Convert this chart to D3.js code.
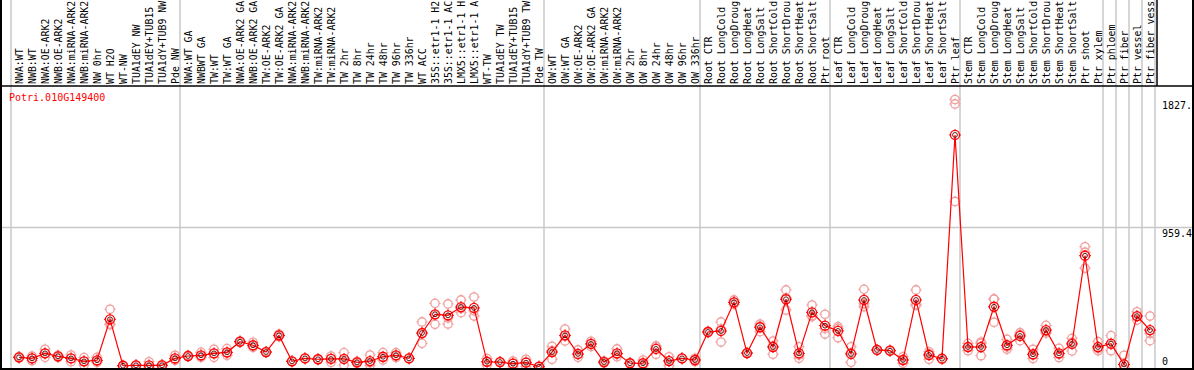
<!DOCTYPE html>
<html>
<head>
<meta charset="utf-8">
<script src="https://cdn.jsdelivr.net/npm/d3@7"></script>
<style>
  body { margin: 0; background: #fff; }
  svg { display: block; font-family: "DejaVu Sans Mono", monospace; font-size: 10px; }
</style>
</head>
<body>
<svg id="chart" width="1194" height="370"></svg>
<script>
// gene id
const geneName = "Potri.010G149400";

// sample names, as far as the header shows them
const samples = [
  "NWA:WT", "NWB:WT", "NWA:OE-ARK2", "NWB:OE-ARK2", "NWA:miRNA-ARK2", "NWB:miRNA-ARK2",
  "NW 0hr", "WT H2O", "WT-NW", "TUA1dEY NW", "TUA1dEY+TUB15", "TUA1dY+TUB9 NW", "Pde NW",
  "NWA:WT GA", "NWBWT GA", "TW:WT", "TW:WT GA", "NWA:OE-ARK2 GA", "NWB:OE-ARK2 GA",
  "TW:OE-ARK2", "TW:OE-ARK2 GA", "NWA:miRNA-ARK2 ", "NWB:miRNA-ARK2 ", "TW:miRNA-ARK2",
  "TW:miRNA-ARK2 ", "TW 2hr", "TW 8hr", "TW 24hr", "TW 48hr", "TW 96hr", "TW 336hr", "WT ACC",
  "35S::etr1-1 H2", "35S::etr1-1 AC", "LMX5::etr1-1 H", "LMX5::etr1-1 A", "WT-TW",
  "TUA1dEY TW", "TUA1dEY+TUB15 ", "TUA1dY+TUB9 TW", "Pde TW",
  "OW:WT", "OW:WT GA", "OW:OE-ARK2", "OW:OE-ARK2 GA", "OW:miRNA-ARK2", "OW:miRNA-ARK2 ",
  "OW 2hr", "OW 8hr", "OW 24hr", "OW 48hr", "OW 96hr", "OW 336hr",
  "Root CTR", "Root LongCold", "Root LongDroug", "Root LongHeat", "Root LongSalt",
  "Root ShortCold", "Root ShortDrou", "Root ShortHeat", "Root ShortSalt", "Ptr root",
  "Leaf CTR", "Leaf LongCold", "Leaf LongDroug", "Leaf LongHeat", "Leaf LongSalt",
  "Leaf ShortCold", "Leaf ShortDrou", "Leaf ShortHeat", "Leaf ShortSalt", "Ptr leaf",
  "Stem CTR", "Stem LongCold", "Stem LongDroug", "Stem LongHeat", "Stem LongSalt",
  "Stem ShortCold", "Stem ShortDrou", "Stem ShortHeat", "Stem ShortSalt", "Ptr shoot",
  "Ptr xylem", "Ptr phloem", "Ptr fiber", "Ptr vessel", "Ptr fiber vess"
];

// first sample of each group (grey separators)
const groupStarts = ["NWA:WT", "NWA:WT GA", "OW:WT", "Root CTR", "Leaf CTR", "Stem CTR",
  "Ptr phloem", "Ptr fiber", "Ptr vessel", "Ptr fiber vess"];

// mean expression
const means = [
  79, 72, 106, 86, 72, 52, 59, 337, 22, 25, 25, 25, 72,
  88, 93, 106, 113, 185, 161, 115, 228, 52, 72, 66, 68, 68, 45, 54, 83, 93, 72, 244,
  371, 364, 420, 414, 49, 47, 36, 43, 16,
  115, 228, 102, 170, 47, 106, 39, 39, 136, 54, 72, 61,
  251, 258, 452, 108, 283, 149, 473, 106, 384, 294,
  258, 102, 468, 129, 124, 61, 468, 95, 70, 1587,
  149, 149, 422, 161, 224, 100, 264, 106, 170, 768, 149,
  172, 31, 359, 264
];

// replicate values
const reps = [
  [75, 79, 84], [56, 72, 88], [134, 106, 79], [79, 86, 93], [49, 72, 95], [77, 52, 27],
  [79, 53, 45], [405, 305, 301], [20, 22, 24], [22, 25, 28], [49, 14, 12], [20, 25, 30], [93, 64, 59],
  [84, 88, 92], [113, 87, 79], [134, 105, 79], [138, 108, 93], [180, 185, 190], [181, 155, 147],
  [112, 115, 118], [237, 228, 219], [50, 52, 54], [70, 72, 74], [64, 66, 68], [88, 71, 45],
  [111, 66, 27], [52, 45, 39], [95, 42, 25], [111, 77, 61], [111, 90, 78], [70, 72, 74],
  [319, 239, 174], [445, 365, 303], [441, 346, 305], [468, 410, 382], [488, 395, 359],
  [71, 49, 27], [45, 47, 49], [54, 38, 16], [66, 47, 16], [14, 16, 18],
  [154, 125, 66], [271, 223, 190], [129, 98, 79], [188, 170, 152], [54, 47, 40], [136, 99, 83],
  [37, 39, 41], [61, 32, 24], [157, 151, 100], [83, 57, 22], [70, 72, 74], [73, 61, 49],
  [246, 251, 256], [319, 272, 183], [468, 450, 438], [105, 108, 111], [305, 291, 253],
  [190, 157, 100], [536, 483, 400], [151, 94, 73], [434, 363, 355], [371, 274, 237],
  [287, 275, 212], [151, 110, 45], [540, 442, 422], [126, 129, 132], [121, 124, 127],
  [83, 61, 39], [536, 434, 434], [117, 102, 66], [68, 70, 72], [1827.4, 1797, 1136],
  [174, 149, 124], [174, 183, 90], [475, 474, 317], [201, 148, 134], [246, 234, 192],
  [134, 95, 71], [296, 253, 243], [140, 100, 78], [208, 180, 122], [829, 792, 683],
  [185, 138, 124], [226, 166, 124], [93, 0, 0], [388, 357, 332], [359, 241, 192]
];

const svg = d3.select("#chart");
const W = 1194, H = 370;
const area = { left: 11, right: 1155, top: 86, bottom: 369, frameR: 1193 };

const maxVal = d3.max(reps.flat());
const yTop = maxVal * 1.05;

const scX = d3.scaleBand().domain(samples).range([area.left, area.right]).padding(0);
const scY = d3.scaleLinear().domain([0, yTop]).range([area.bottom, area.top]);
const cx = d => scX(d) + 8;

// grid
svg.append("line")
  .attr("x1", 1).attr("x2", area.frameR)
  .attr("y1", scY(yTop / 2)).attr("y2", scY(yTop / 2))
  .attr("stroke", "#c8c8c8").attr("stroke-width", 1.5);

svg.selectAll(".sep")
  .data(groupStarts)
  .enter().append("line")
  .attr("x1", d => scX(d)).attr("x2", d => scX(d))
  .attr("y1", 0).attr("y2", area.bottom)
  .attr("stroke", "#c8c8c8").attr("stroke-width", 1.5);
svg.append("line")
  .attr("x1", area.right).attr("x2", area.right)
  .attr("y1", 0).attr("y2", area.bottom)
  .attr("stroke", "#c8c8c8").attr("stroke-width", 1.5);

// header labels
svg.selectAll(".lab")
  .data(samples)
  .enter().append("text")
  .attr("transform", d => `translate(${scX(d) + 11.5}, 84) rotate(-90)`)
  .attr("fill", "#000")
  .style("font-size", "9.9px")
  .text(d => d.trim());

// frame
svg.append("line").attr("x1", 1).attr("x2", area.frameR).attr("y1", 86).attr("y2", 86)
  .attr("stroke", "#000").attr("stroke-width", 1.5);
svg.append("line").attr("x1", area.right + 2).attr("x2", area.right + 2).attr("y1", 0).attr("y2", 86)
  .attr("stroke", "#000").attr("stroke-width", 1.5);

// title
svg.append("text").attr("x", 9).attr("y", 101).attr("fill", "red").text(geneName);

// y labels (the top one is cut by the border in the original)
const yLabels = [maxVal, yTop / 2, 0];
svg.selectAll(".ylab")
  .data(yLabels)
  .enter().append("text")
  .attr("x", 1162)
  .attr("y", d => Math.min(scY(d) + 9.5, 365))
  .attr("fill", "#000")
  .text(d => d === 0 ? "0" : d3.format(".1f")(d).slice(0, 5));

// marker drawing
function marker(g, x, y, col, r) {
  g.append("circle").attr("cx", x).attr("cy", y).attr("r", r)
    .attr("fill", "none").attr("stroke", col).attr("stroke-width", 1.3);
  [[0, -1], [0, 1], [-1, 0], [1, 0]].forEach(([dx, dy]) => {
    g.append("line")
      .attr("x1", x + dx * (r - 0.5)).attr("y1", y + dy * (r - 0.5))
      .attr("x2", x + dx * (r + 1.5)).attr("y2", y + dy * (r + 1.5))
      .attr("stroke", col).attr("stroke-width", 1);
  });
}

// replicates
const gRep = svg.append("g");
samples.forEach((s, i) => {
  reps[i].forEach(v => marker(gRep, cx(s), scY(v), "#f0a0a0", 4.2));
});

// mean line
const lineGen = d3.line()
  .x((d, i) => cx(samples[i]))
  .y(d => scY(d));
svg.append("path")
  .datum(means)
  .attr("d", lineGen)
  .attr("fill", "none")
  .attr("stroke", "red")
  .attr("stroke-width", 1.2);

// means
const gMean = svg.append("g");
samples.forEach((s, i) => {
  marker(gMean, cx(s), scY(means[i]), "red", 4.5);
  gMean.append("circle").attr("cx", cx(s)).attr("cy", scY(means[i])).attr("r", 2.4)
    .attr("fill", "none").attr("stroke", "#500").attr("stroke-width", 0.9);
});

// outer frame
svg.append("line").attr("x1", 1).attr("x2", 1).attr("y1", 0).attr("y2", H)
  .attr("stroke", "#000").attr("stroke-width", 2);
svg.append("line").attr("x1", area.frameR).attr("x2", area.frameR).attr("y1", 0).attr("y2", H)
  .attr("stroke", "#000").attr("stroke-width", 2);
svg.append("line").attr("x1", 0).attr("x2", W).attr("y1", area.bottom).attr("y2", area.bottom)
  .attr("stroke", "#000").attr("stroke-width", 2);
</script>
</body>
</html>
